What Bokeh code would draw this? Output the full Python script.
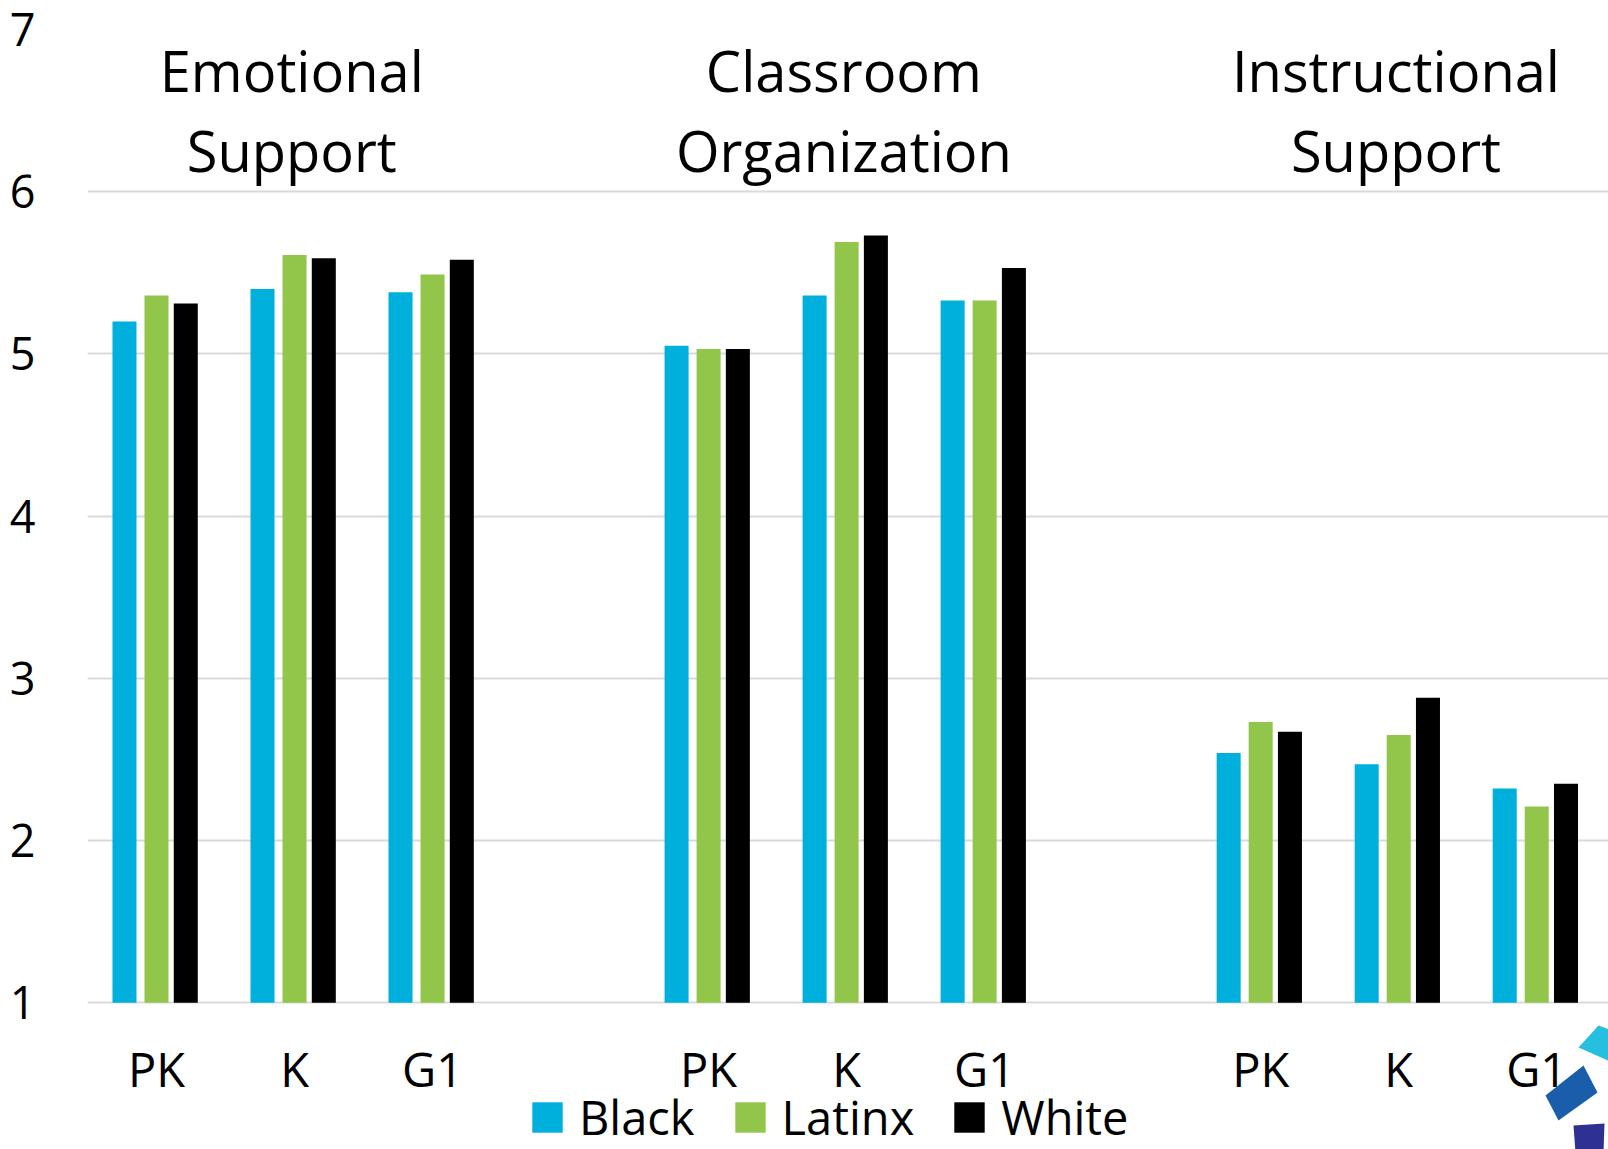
from bokeh.plotting import figure
from bokeh.models import Range1d, FixedTicker, Legend, LegendItem, ColumnDataSource, PolyAnnotation
from bokeh.core.properties import value
from bokeh.embed import file_html
from bokeh.resources import INLINE

# ---- data ----
groups = ["Emotional Support", "Classroom Organization", "Instructional Support"]
grades = ["PK", "K", "G1"]
series = ["Black", "Latinx", "White"]
black = [5.20, 5.40, 5.38, 5.05, 5.36, 5.33, 2.54, 2.47, 2.32]
latinx = [5.36, 5.61, 5.49, 5.03, 5.69, 5.33, 2.73, 2.65, 2.21]
white = [5.31, 5.59, 5.58, 5.03, 5.73, 5.53, 2.67, 2.88, 2.35]
y_ticks = [1, 2, 3, 4, 5, 6, 7]
y_min = 1

colors = ["#00B0DC", "#92C64B", "#000000"]
FONT = "Open Sans"

# slot positions: 3 grades per group, one empty slot between groups
slots = [4 * g + s for g in range(len(groups)) for s in range(len(grades))]
slot_labels = [grades[s] for g in range(len(groups)) for s in range(len(grades))]

# frame extends below the value axis minimum so that grade labels and legend
# sit inside the plotting area
p = figure(width=1608, height=1149, output_backend="svg", toolbar_location=None,
           x_range=Range1d(-0.5, 10.52), y_range=Range1d(0.095, 7),
           min_border_left=87, min_border_right=0, min_border_top=29,
           min_border_bottom=0)
p.outline_line_color = None
p.background_fill_color = "white"
p.border_fill_color = "white"

offsets = [-0.232, 0.0, 0.212]
bar_w = 0.174
renderers = []
for vals, off, col in zip([black, latinx, white], offsets, colors):
    src = ColumnDataSource(dict(x=[sx + off for sx in slots], top=vals))
    r = p.vbar(x="x", top="top", bottom=y_min, width=bar_w, source=src,
               fill_color=col, line_color=None)
    renderers.append(r)

# group titles (two lines), centered over the middle grade of each group
line1 = [g.split(" ")[0] for g in groups]
line2 = [g.split(" ")[1] for g in groups]
gx = [4 * g + 1 - 0.02 for g in range(len(groups))]
p.text(x=gx, y=[6.748] * 3, text=line1, text_align="center",
       text_baseline="alphabetic", text_font=value(FONT),
       text_font_size="56px", text_color="black")
p.text(x=gx, y=[6.26] * 3, text=line2, text_align="center",
       text_baseline="alphabetic", text_font=value(FONT),
       text_font_size="56px", text_color="black")

# axes
p.xaxis.ticker = FixedTicker(ticks=slots)
p.xaxis.major_label_overrides = {sx: lab for sx, lab in zip(slots, slot_labels)}
p.xaxis.fixed_location = y_min
p.yaxis.ticker = FixedTicker(ticks=y_ticks)
for ax in [p.xaxis[0], p.yaxis[0]]:
    ax.axis_line_color = None
    ax.major_tick_line_color = None
    ax.minor_tick_line_color = None
    ax.major_tick_out = 0
    ax.major_tick_in = 0
    ax.major_label_text_font = FONT
    ax.major_label_text_color = "black"
p.xaxis.major_label_text_font_size = "47px"
p.yaxis.major_label_text_font_size = "45px"
p.xaxis.major_label_standoff = 34
p.yaxis.major_label_standoff = 52

p.xgrid.grid_line_color = None
p.ygrid.grid_line_color = "#D9D9D9"
p.ygrid.grid_line_width = 2

legend = Legend(items=[LegendItem(label=s, renderers=[r]) for s, r in zip(series, renderers)],
                location=(441, 0), orientation="horizontal",
                label_text_font=FONT, label_text_font_size="47px",
                label_text_color="black",
                glyph_width=38, glyph_height=38, label_standoff=13, spacing=36,
                padding=0, margin=0, border_line_color=None,
                background_fill_alpha=0)
p.add_layout(legend, "center")

# decorative corner logo (partly cut off, as in the source slide)
logo = [
    ([1578, 1598, 1612, 1612], [1047, 1025, 1030, 1062], "#26BFE0"),
    ([1583, 1597, 1558, 1545], [1065, 1092, 1120, 1095], "#1A5EAB"),
    ([1573, 1604, 1603, 1575], [1125, 1123, 1152, 1152], "#2E3192"),
]
for xs, ys, col in logo:
    p.add_layout(PolyAnnotation(xs=xs, ys=ys, xs_units="canvas", ys_units="canvas",
                                fill_color=col, fill_alpha=1, line_color=None))

open("out.html", "w").write(file_html(p, INLINE))
